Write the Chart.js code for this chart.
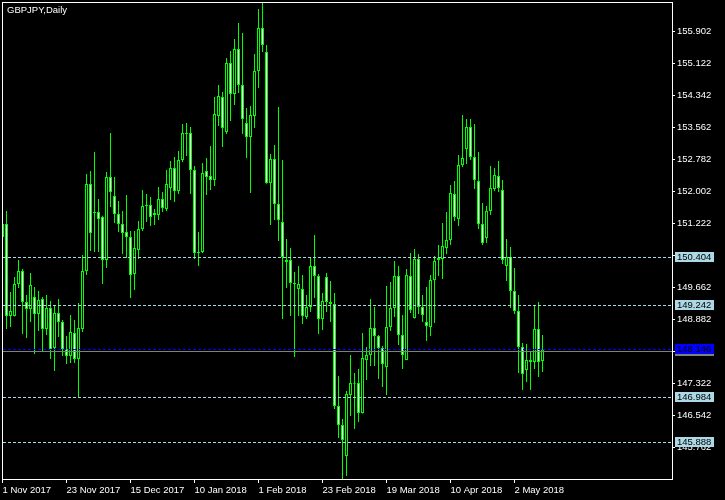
<!DOCTYPE html>
<html>
<head>
<meta charset="utf-8">
<script src="https://cdn.jsdelivr.net/npm/chart.js@4"></script>
<style>
html,body{margin:0;padding:0;background:#000;}
canvas{display:block;}
</style>
</head>
<body>
<canvas id="c" width="725" height="500"></canvas>
<script>
const chartTitle = 'GBPJPY,Daily';

const categories = [
"1 Nov 2017","2 Nov 2017","3 Nov 2017","6 Nov 2017","7 Nov 2017","8 Nov 2017","9 Nov 2017","10 Nov 2017","13 Nov 2017","14 Nov 2017","15 Nov 2017","16 Nov 2017","17 Nov 2017","20 Nov 2017","21 Nov 2017","22 Nov 2017","23 Nov 2017","24 Nov 2017","27 Nov 2017","28 Nov 2017","29 Nov 2017","30 Nov 2017",
"1 Dec 2017","4 Dec 2017","5 Dec 2017","6 Dec 2017","7 Dec 2017","8 Dec 2017","11 Dec 2017","12 Dec 2017","13 Dec 2017","14 Dec 2017","15 Dec 2017","18 Dec 2017","19 Dec 2017","20 Dec 2017","21 Dec 2017","22 Dec 2017","26 Dec 2017","27 Dec 2017","28 Dec 2017","29 Dec 2017",
"2 Jan 2018","3 Jan 2018","4 Jan 2018","5 Jan 2018","8 Jan 2018","9 Jan 2018","10 Jan 2018","11 Jan 2018","12 Jan 2018","15 Jan 2018","16 Jan 2018","17 Jan 2018","18 Jan 2018","19 Jan 2018","22 Jan 2018","23 Jan 2018","24 Jan 2018","25 Jan 2018","26 Jan 2018","29 Jan 2018","30 Jan 2018","31 Jan 2018",
"1 Feb 2018","2 Feb 2018","5 Feb 2018","6 Feb 2018","7 Feb 2018","8 Feb 2018","9 Feb 2018","12 Feb 2018","13 Feb 2018","14 Feb 2018","15 Feb 2018","16 Feb 2018","19 Feb 2018","20 Feb 2018","21 Feb 2018","22 Feb 2018","23 Feb 2018","26 Feb 2018","27 Feb 2018","28 Feb 2018",
"1 Mar 2018","2 Mar 2018","5 Mar 2018","6 Mar 2018","7 Mar 2018","8 Mar 2018","9 Mar 2018","12 Mar 2018","13 Mar 2018","14 Mar 2018","15 Mar 2018","16 Mar 2018","19 Mar 2018","20 Mar 2018","21 Mar 2018","22 Mar 2018","23 Mar 2018","26 Mar 2018","27 Mar 2018","28 Mar 2018","29 Mar 2018","30 Mar 2018",
"2 Apr 2018","3 Apr 2018","4 Apr 2018","5 Apr 2018","6 Apr 2018","9 Apr 2018","10 Apr 2018","11 Apr 2018","12 Apr 2018","13 Apr 2018","16 Apr 2018","17 Apr 2018","18 Apr 2018","19 Apr 2018","20 Apr 2018","23 Apr 2018","24 Apr 2018","25 Apr 2018","26 Apr 2018","27 Apr 2018","30 Apr 2018",
"1 May 2018","2 May 2018","3 May 2018","4 May 2018","7 May 2018","8 May 2018","9 May 2018","10 May 2018","11 May 2018"
];

const openPrices = [
150.890,151.207,148.961,148.961,149.742,150.060,149.303,149.132,149.425,149.010,
149.376,148.644,149.156,148.180,149.034,148.815,148.156,147.985,148.546,147.911,
148.644,150.060,152.184,151.476,151.500,151.378,150.328,152.355,151.891,151.451,
151.207,151.012,150.890,149.987,150.572,151.085,151.647,151.671,151.427,151.427,
151.818,151.573,152.086,152.574,152.013,152.770,153.405,153.429,152.526,150.499,
150.524,152.501,152.379,152.281,153.844,154.308,153.453,155.138,154.381,155.480,
154.601,153.673,153.331,153.844,154.943,155.992,155.406,152.208,152.794,151.696,
151.256,150.280,150.328,149.767,149.620,149.620,148.937,149.181,150.182,149.938,
148.888,149.913,149.303,149.254,146.764,146.300,145.543,147.032,147.325,147.325,
146.593,147.887,148.009,148.668,148.473,148.180,147.716,148.693,149.156,149.938,
148.497,147.887,149.938,148.912,150.353,149.181,148.815,148.693,149.840,150.328,
150.353,150.621,150.817,151.940,151.329,152.648,153.038,153.575,152.843,152.257,
151.207,150.865,151.525,152.062,152.379,152.037,150.182,150.402,149.572,149.083,
148.204,147.643,147.838,147.838,148.644,147.862];

const highPrices = [
151.427,151.525,149.547,149.913,150.328,150.109,149.474,150.011,149.669,149.572,
149.425,149.474,149.327,149.230,149.376,148.864,148.473,148.986,148.864,149.279,
150.450,152.428,152.501,152.965,151.818,151.410,152.477,153.429,152.355,151.769,
151.525,151.915,151.036,151.036,151.281,152.037,151.940,151.866,151.573,152.111,
151.989,152.526,152.745,152.843,152.989,153.649,153.673,153.576,152.623,151.012,
152.697,152.819,153.112,154.308,154.601,154.430,155.260,155.431,155.724,156.114,
155.870,154.039,154.088,155.358,156.456,156.603,155.577,152.916,153.136,154.064,
152.770,150.841,150.621,150.035,150.182,149.962,149.474,150.402,150.939,149.987,
149.523,150.011,149.816,149.523,147.496,146.447,147.130,148.009,147.570,147.667,
148.546,148.204,149.376,149.181,148.497,148.229,149.694,149.791,150.304,150.182,
148.986,150.109,150.499,150.597,150.475,149.474,149.669,149.962,150.426,150.695,
151.232,151.500,152.159,152.257,152.892,153.868,153.771,153.771,153.649,152.965,
151.720,151.647,152.623,152.574,152.745,152.281,150.841,150.646,150.133,149.474,
148.302,148.278,148.082,149.205,149.303,148.497];

const lowPrices = [
150.817,148.644,148.693,148.950,149.645,148.522,148.424,148.815,148.033,148.595,
148.107,148.497,147.911,147.618,148.448,147.985,147.789,147.814,147.814,146.984,
148.571,149.962,150.548,150.524,150.524,149.742,150.133,151.622,151.232,151.012,
150.475,150.377,149.401,149.596,150.353,151.036,151.256,151.158,151.183,151.305,
151.500,151.525,151.793,151.744,151.940,152.721,152.867,151.940,150.353,150.182,
150.499,151.915,152.037,152.135,153.600,153.087,153.405,153.722,154.113,154.406,
153.405,152.819,151.964,153.551,154.528,155.406,152.190,151.183,151.305,150.792,
148.888,149.645,148.961,147.960,148.961,148.766,148.888,149.059,149.401,148.522,
148.619,149.059,148.815,146.691,145.983,144.982,145.055,146.520,146.202,146.373,
146.580,147.399,147.740,147.740,147.423,147.228,147.032,148.595,148.937,148.253,
147.667,147.880,149.034,148.900,149.010,148.815,148.351,148.473,148.790,149.938,
149.864,150.475,150.695,151.281,151.158,152.599,152.672,152.770,152.062,151.085,
150.695,150.743,151.427,152.013,151.989,150.231,149.816,149.156,149.010,147.570,
147.155,147.350,147.155,147.667,147.472,147.594];

const closePrices = [
151.207,148.961,149.083,149.742,150.060,149.303,149.132,149.718,149.010,149.352,
148.644,149.156,148.156,149.034,148.815,148.156,147.985,148.571,147.911,148.668,
150.060,152.184,150.988,151.500,151.329,150.328,152.355,151.989,151.451,151.207,
150.988,150.890,149.962,150.621,151.085,151.647,151.671,151.378,151.476,151.818,
151.598,152.184,152.574,152.013,152.770,153.429,153.429,152.526,150.499,150.524,
152.452,152.355,152.281,153.893,154.332,153.551,155.138,154.381,155.480,154.601,
153.771,153.331,153.868,154.943,155.992,155.577,152.208,152.794,151.696,151.305,
150.402,150.328,149.767,149.742,149.742,148.961,149.181,150.182,149.938,148.888,
149.327,149.303,149.254,146.764,146.300,145.934,147.057,147.325,147.310,146.593,
147.936,148.009,148.668,148.473,148.180,147.789,148.693,149.156,149.938,148.497,
148.009,149.962,149.108,150.353,149.181,148.986,148.717,149.840,150.304,150.377,
150.670,150.817,151.964,151.378,152.648,152.819,153.575,152.843,152.281,151.207,
150.743,151.525,152.086,152.404,152.086,150.328,150.402,149.572,149.083,148.204,
147.545,147.887,147.887,148.644,147.838,148.146];

const priceTicks = [155.902,155.122,154.342,153.562,152.782,152.002,151.222,150.442,149.662,148.882,148.102,147.322,146.542,145.762];
const dateTickLabels = ["1 Nov 2017","23 Nov 2017","15 Dec 2017","10 Jan 2018","1 Feb 2018","23 Feb 2018","19 Mar 2018","10 Apr 2018","2 May 2018"];
const levelLines = [150.404,149.242,146.984,145.888];
const bidLine = [148.146];
const grayLine = [148.100];
const priceRange = [144.982,156.603];

const FONT = '"Liberation Sans", Arial, sans-serif';

const wickData = categories.map((c,i)=>({x:i, y:[lowPrices[i], highPrices[i]]}));
const bodyData = categories.map((c,i)=>({x:i, y:[openPrices[i], closePrices[i]]}));
const bodyFill = categories.map((c,i)=> closePrices[i] < openPrices[i] ? '#ffffff' : '#000000');

function fmt(v){ return Number(v).toFixed(3); }

const overlay = {
  id:'overlay',
  beforeDraw(chart){
    const ctx = chart.ctx;
    ctx.save();
    ctx.fillStyle = '#000';
    ctx.fillRect(0,0,chart.width,chart.height);
    ctx.restore();
  },
  afterDatasetsDraw(chart){
    const {ctx, chartArea:a, scales:{y}} = chart;
    const py = v => Math.round(y.getPixelForValue(v)) + 0.5;
    ctx.save();
    ctx.lineWidth = 1;
    ctx.setLineDash([3,2]);
    ctx.strokeStyle = '#ADD8E6';
    levelLines.forEach(v=>{
      const p = py(v);
      ctx.beginPath(); ctx.moveTo(a.left+1, p); ctx.lineTo(a.right, p); ctx.stroke();
    });
    ctx.setLineDash([]);
    ctx.strokeStyle = '#808080';
    grayLine.forEach(v=>{
      const p = py(v);
      ctx.beginPath(); ctx.moveTo(a.left+1, p); ctx.lineTo(a.right, p); ctx.stroke();
    });
    ctx.setLineDash([3,2]);
    ctx.strokeStyle = '#0000FF';
    bidLine.forEach(v=>{
      const p = py(v);
      ctx.beginPath(); ctx.moveTo(a.left+1, p); ctx.lineTo(a.right, p); ctx.stroke();
    });
    ctx.setLineDash([]);
    ctx.strokeStyle = '#ffffff';
    ctx.strokeRect(2.5, 2.5, a.right - 2, a.bottom - 2);
    ctx.restore();
  },
  afterDraw(chart){
    const {ctx, chartArea:a, scales:{y}} = chart;
    const py = v => Math.round(y.getPixelForValue(v));
    ctx.save();
    ctx.font = '9.5px ' + FONT;
    ctx.textBaseline = 'middle';
    ctx.textAlign = 'left';
    const box = (v, bg, fg) => {
      const p = py(v);
      ctx.fillStyle = bg;
      ctx.fillRect(a.right + 3, p - 5, 39, 10);
      ctx.fillStyle = fg;
      ctx.fillText(fmt(v), a.right + 5, p + 0.5);
    };
    levelLines.forEach(v=> box(v, '#ADD8E6', '#000000'));
    grayLine.forEach(v=>{
      const p = py(v);
      ctx.fillStyle = '#808080';
      ctx.fillRect(a.right + 3, p - 5, 39, 10);
    });
    bidLine.forEach(v=> box(v, '#0000FF', '#000000'));
    ctx.fillStyle = '#ffffff';
    ctx.textBaseline = 'alphabetic';
    ctx.font = '9.5px ' + FONT;
    ctx.fillText(chartTitle, 7, 12.5);
    ctx.restore();
  }
};

new Chart(document.getElementById('c').getContext('2d'), {
  type:'bar',
  data:{
    datasets:[
      {label:'Body', data:bodyData, backgroundColor:bodyFill, borderColor:'#00FF00', borderWidth:1,
       borderSkipped:false, barThickness:3, grouped:false, order:1, inflateAmount:0, minBarLength:1},
      {label:'Wick', data:wickData, backgroundColor:'#00FF00', borderWidth:0,
       barThickness:1, grouped:false, order:2, inflateAmount:0}
    ]
  },
  options:{
    responsive:false,
    animation:false,
    devicePixelRatio:1,
    layout:{padding:{left:2, top:3, right:0, bottom:0}},
    plugins:{legend:{display:false}, tooltip:{enabled:false}, title:{display:false}},
    scales:{
      x:{
        type:'linear', min:-0.125, max:167.375, offset:false,
        afterBuildTicks: s => { s.ticks = dateTickLabels.map(l => ({value: categories.indexOf(l)})); },
        afterFit: s => { s.height = 21; s.paddingLeft = 0; s.paddingRight = 0; },
        ticks:{callback: v => categories[v] || '', align:'start', maxRotation:0, minRotation:0, autoSkip:false,
               color:'#ffffff', font:{family:FONT, size:9.5}, padding:2},
        grid:{drawOnChartArea:false, drawTicks:true, tickLength:4, color:'#ffffff', offset:false},
        border:{color:'#ffffff'}
      },
      y:{
        type:'linear', position:'right', min:priceRange[0], max:priceRange[1], beginAtZero:false,
        afterBuildTicks: s => { s.ticks = priceTicks.map(v => ({value:v})); },
        afterFit: s => { s.width = 53; s.paddingTop = 0; s.paddingBottom = 0; },
        ticks:{callback: v => fmt(v), color:'#ffffff', font:{family:FONT, size:9.5}, padding:2},
        grid:{drawOnChartArea:false, drawTicks:true, tickLength:3, color:'#ffffff'},
        border:{color:'#ffffff'}
      }
    }
  },
  plugins:[overlay]
});
</script>
</body>
</html>
